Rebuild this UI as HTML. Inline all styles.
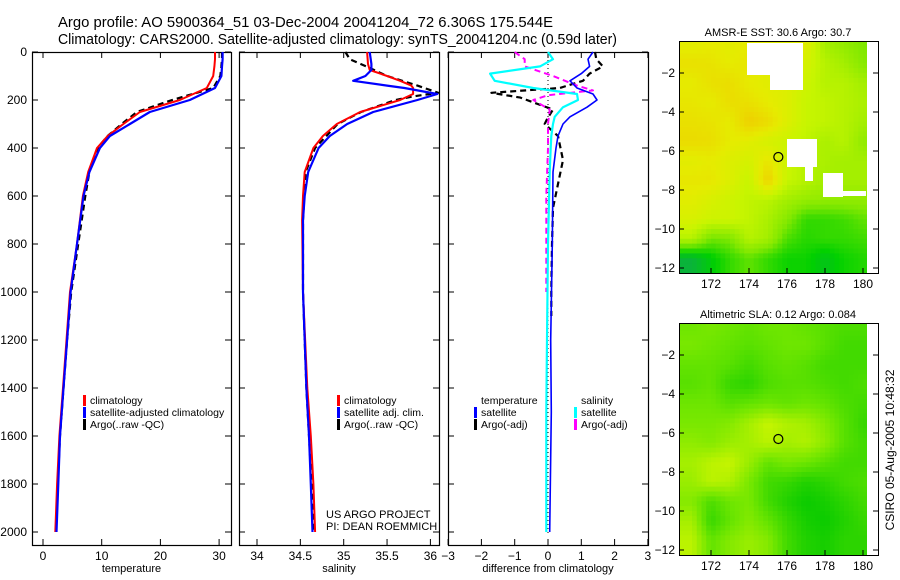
<!DOCTYPE html>
<html><head><meta charset="utf-8"><style>
html,body{margin:0;padding:0;background:#fff}
svg{display:block;font-family:"Liberation Sans",sans-serif}
</style></head><body>
<svg id="c" width="900" height="580" viewBox="0 0 900 580">
<defs>
<clipPath id="clip-sst"><rect x="679" y="41" width="199" height="232"/></clipPath>
<clipPath id="clip-sla"><rect x="679" y="323" width="199" height="232"/></clipPath>
</defs>
<text x="58" y="27" font-size="15" textLength="495" lengthAdjust="spacingAndGlyphs">Argo profile: AO 5900364_51 03-Dec-2004 20041204_72 6.306S 175.544E</text>
<text x="58" y="44" font-size="15" textLength="559" lengthAdjust="spacingAndGlyphs">Climatology: CARS2000. Satellite-adjusted climatology: synTS_20041204.nc (0.59d later)</text>
<text x="778" y="36" font-size="11" text-anchor="middle">AMSR-E SST: 30.6 Argo: 30.7</text>
<text x="778" y="318" font-size="11" text-anchor="middle">Altimetric SLA: 0.12 Argo: 0.084</text>
<text transform="translate(894,450) rotate(-90)" font-size="12" text-anchor="middle">CSIRO 05-Aug-2005 10:48:32</text>
<g id="g"></g>
</svg>
<script>
// depth levels
const depths=[0,30,60,100,150,200,250,300,350,400,500,600,800,1000,1200,1400,1600,1800,2000];
// temperature
const tempClim=[29.3,29.3,29.2,29.0,27.9,23.3,16.5,13.7,11.0,9.2,7.7,6.8,5.8,4.6,4.0,3.4,2.8,2.4,2.1];
const tempSat=[30.6,30.6,30.5,30.4,29.3,25.0,18.2,14.8,11.4,9.7,7.9,6.9,5.8,4.7,4.1,3.5,2.9,2.6,2.3];
const tempArgo=[30.5,30.5,30.4,30.2,29.0,22.0,16.0,13.4,11.0,9.3,7.9,7.2,6.0,4.8,4.1,3.5,2.9,2.5,2.2];
// salinity
const salDepths=[0,50,75,100,120,140,150,175,200,250,300,350,400,500,600,700,1000,1400,1600,1800,2000];
const salClim=[35.27,35.28,35.3,35.5,35.65,35.78,35.8,35.8,35.65,35.19,34.92,34.76,34.65,34.55,34.53,34.52,34.53,34.58,34.62,34.65,34.67];
const salSat=[35.3,35.32,35.32,35.25,35.11,35.5,35.7,36.08,35.85,35.34,35.04,34.84,34.71,34.59,34.55,34.53,34.53,34.57,34.6,34.62,34.64];
const argoSalDepths=[0,30,60,100,140,170,185,200,250,300,400,500,700,1000,1400,2000];
const salArgo=[35.02,35.07,35.26,35.5,35.85,36.09,35.8,35.6,35.2,34.93,34.67,34.56,34.53,34.53,34.57,34.66];
// differences
const dDepths=[0,30,60,90,120,150,175,200,230,270,300,350,400,500,800,1200,1500,2000];
const dTempSat=[1.35,1.2,1.25,1.0,0.66,0.87,1.35,1.47,1.17,0.66,0.45,0.3,0.24,0.15,0.13,0.08,0.1,0.05];
const dSalSat=[0,0.15,-0.24,-1.74,-1.6,-0.44,0.87,0.9,0.45,0.2,0.15,0.1,0.08,0.05,0.0,-0.03,-0.05,-0.05];
const dArgoDepths=[0,30,60,90,120,150,170,190,210,240,280,300,350,450,550,650,800,1000,1100];
const dTempArgo=[1.41,1.45,1.65,1.25,1.05,0.35,-1.7,-0.83,-0.44,0.15,-0.03,-0.1,0.3,0.45,0.3,0.15,0.12,0.1,0.1];
const dSalArgoDepths=[0,30,60,100,140,160,180,200,240,300,400,600,1000];
const dSalArgo=[-1.0,-0.7,-0.7,0.15,0.87,1.35,0,-0.44,0.05,0,0,-0.05,-0.05];
const depthTicks=[0,200,400,600,800,1000,1200,1400,1600,1800,2000];
const tempTicks=[0,10,20,30];
const salTicks=[34,34.5,35,35.5,36];
const diffTicks=[-3,-2,-1,0,1,2,3];
// map grids (rows lat -0.5..-12, cols lon 171..180)
const sstGrid=[
[0.7,0.72,0.7,0.72,0.7,0.68,0.7,0.5,0.45,0.4],
[0.76,0.75,0.72,0.74,0.7,0.66,0.65,0.55,0.5,0.42],
[0.72,0.76,0.77,0.72,0.7,0.68,0.62,0.55,0.55,0.5],
[0.74,0.72,0.77,0.76,0.72,0.68,0.6,0.58,0.55,0.52],
[0.76,0.75,0.72,0.82,0.78,0.68,0.6,0.58,0.55,0.5],
[0.78,0.77,0.72,0.7,0.65,0.62,0.58,0.52,0.55,0.45],
[0.7,0.72,0.68,0.65,0.74,0.62,0.55,0.52,0.5,0.5],
[0.74,0.74,0.68,0.6,0.82,0.6,0.55,0.5,0.5,0.5],
[0.7,0.66,0.62,0.58,0.56,0.5,0.46,0.45,0.45,0.45],
[0.66,0.62,0.62,0.58,0.52,0.42,0.28,0.28,0.3,0.35],
[0.55,0.38,0.4,0.55,0.5,0.32,0.26,0.28,0.28,0.3],
[0.08,0.18,0.28,0.35,0.28,0.22,0.22,0.15,0.22,0.25]];
const slaGrid=[
[0.5,0.55,0.5,0.45,0.5,0.5,0.45,0.4,0.35,0.35],
[0.55,0.5,0.45,0.4,0.45,0.5,0.5,0.4,0.3,0.3],
[0.45,0.45,0.4,0.3,0.4,0.45,0.4,0.3,0.3,0.3],
[0.4,0.45,0.25,0.2,0.35,0.4,0.4,0.35,0.3,0.35],
[0.5,0.5,0.4,0.45,0.5,0.45,0.5,0.45,0.35,0.3],
[0.55,0.55,0.6,0.75,0.9,0.8,0.75,0.6,0.4,0.25],
[0.65,0.6,0.7,0.75,0.85,0.75,0.8,0.65,0.4,0.3],
[0.75,0.85,0.9,0.7,0.45,0.55,0.5,0.4,0.3,0.3],
[0.7,0.85,0.8,0.55,0.3,0.25,0.15,0.2,0.3,0.35],
[0.6,0.35,0.5,0.55,0.3,0.15,0.05,0.1,0.2,0.3],
[0.75,0.25,0.45,0.6,0.45,0.25,0.1,0.05,0.15,0.25],
[0.85,0.45,0.6,0.7,0.6,0.3,0.15,0.1,0.2,0.2]];
const lonTicks=[172,174,176,178,180];
const latTicks=[-2,-4,-6,-8,-10,-12];
const argoLon=175.544, argoLat=-6.306;

const NS='http://www.w3.org/2000/svg';
const G=document.getElementById('g');
function mk(tag,at,parent){const e=document.createElementNS(NS,tag);for(const k in at)e.setAttribute(k,at[k]);(parent||G).appendChild(e);return e;}
const TOP=52,BOT=545;
const yD=d=>52+d*0.24;

function panel(name,left,right,xf,ticks,label){
  const f=mk('rect',{x:left+.5,y:TOP+.5,width:right-left,height:BOT-TOP,fill:'none',stroke:'#000','stroke-width':1.2});
  
  
  ticks.forEach(t=>{const x=xf(t);
    mk('line',{x1:x,x2:x,y1:TOP,y2:TOP+6,stroke:'#000'});
    mk('line',{x1:x,x2:x,y1:BOT,y2:BOT-6,stroke:'#000'});
    const tx=mk('text',{x:x,y:BOT+15,'font-size':12,'text-anchor':'middle'});tx.textContent=String(t).replace('-','\u2212');
    
    
  });
  depthTicks.forEach(d=>{const y=yD(d);
    mk('line',{x1:left,x2:left+6,y1:y,y2:y,stroke:'#000'});
    mk('line',{x1:right,x2:right-6,y1:y,y2:y,stroke:'#000'});
  });
  const l=mk('text',{x:(left+right)/2,y:572,'font-size':11,'text-anchor':'middle'});l.textContent=label;
  
  
}
function line(xs,ds,xf,color,w,dash,name){
  const p=xs.map((v,i)=>xf(v).toFixed(1)+','+yD(ds[i]).toFixed(1)).join(' ');
  const a={points:p,fill:'none',stroke:color,'stroke-width':w,'stroke-linejoin':'round'};
  if(dash)a['stroke-dasharray']=dash;
  const e=mk('polyline',a);
  
  
}
function legend(x,y,color,text,name){
  mk('rect',{x:x,y:y-9,width:3,height:11,fill:color});
  const t=mk('text',{x:x+7,y:y,'font-size':10.5});t.textContent=text;
  
  
}
function txt(x,y,s,name,size){const t=mk('text',{x:x,y:y,'font-size':size||10.5});t.textContent=s;
  
  }

depthTicks.forEach(d=>{const t=mk('text',{x:27,y:yD(d)+4,'font-size':12,'text-anchor':'end'});t.textContent=d;
  
  });

const xT=v=>43+v*5.87;
panel('temperature-panel',32,231,xT,tempTicks,'temperature');
line(tempArgo,depths,xT,'#000',2.2,'6,4','temp-argo-line');
line(tempClim,depths,xT,'#f00',2,null,'temp-climatology-line');
line(tempSat,depths,xT,'#00f',2.2,null,'temp-satellite-line');
legend(83,404,'#f00','climatology','temp-legend-climatology');
legend(83,416,'#00f','satellite-adjusted climatology','temp-legend-satellite');
legend(83,428,'#000','Argo(..raw -QC)','temp-legend-argo');

const xS=v=>257+(v-34)*86.7;
panel('salinity-panel',239,439,xS,salTicks,'salinity');
line(salArgo,argoSalDepths,xS,'#000',2.2,'6,4','sal-argo-line');
line(salClim,salDepths,xS,'#f00',2,null,'sal-climatology-line');
line(salSat,salDepths,xS,'#00f',2.2,null,'sal-satellite-line');
legend(337,404,'#f00','climatology','sal-legend-climatology');
legend(337,416,'#00f','satellite adj. clim.','sal-legend-satellite');
legend(337,428,'#000','Argo(..raw -QC)','sal-legend-argo');
txt(326,518,'US ARGO PROJECT','project-credit',11);
txt(326,530,'PI: DEAN ROEMMICH','pi-credit',11);

const xF=v=>548+v*33.3;
panel('difference-panel',448,648,xF,diffTicks,'difference from climatology');
mk('line',{x1:548,x2:548,y1:TOP,y2:BOT-12,stroke:'#000','stroke-dasharray':'1,3'});
line(dTempArgo,dArgoDepths,xF,'#000',2.2,'6,4','diff-temp-argo-line');
line(dSalArgo,dSalArgoDepths,xF,'#f0f',2,'6,4','diff-sal-argo-line');
line(dTempSat,dDepths,xF,'#00f',1.6,null,'diff-temp-satellite-line');
line(dSalSat,dDepths,xF,'#0ff',2.2,null,'diff-sal-satellite-line');
txt(481,404,'temperature','diff-legend-temp-heading');
legend(474,416,'#00f','satellite','diff-legend-temp-satellite');
legend(474,428,'#000','Argo(-adj)','diff-legend-temp-argo');
txt(581,404,'salinity','diff-legend-sal-heading');
legend(574,416,'#0ff','satellite','diff-legend-sal-satellite');
legend(574,428,'#f0f','Argo(-adj)','diff-legend-sal-argo');

function lerpC(stops,v){v=Math.max(0,Math.min(1,v));for(let i=1;i<stops.length;i++){if(v<=stops[i][0]){const a=stops[i-1],b=stops[i],t=(v-a[0])/(b[0]-a[0]);return 'rgb('+[1,2,3].map(k=>Math.round(a[k]+(b[k]-a[k])*t)).join(',')+')';}}const s=stops[stops.length-1];return 'rgb('+s[1]+','+s[2]+','+s[3]+')';}
const sstStops=[[0,16,160,96],[0.2,0,208,0],[0.4,128,232,0],[0.6,200,245,0],[0.72,230,235,0],[0.85,240,200,0],[1,224,128,0]];
const slaStops=[[0,0,200,0],[0.5,110,230,0],[1,220,248,0]];
function sample(grid,lon,lat){
  let c=lon-171,r=(-lat)-0.5;c=Math.max(0,Math.min(9,c));r=Math.max(0,Math.min(11,r));
  const c0=Math.floor(c),r0=Math.floor(r),c1=Math.min(9,c0+1),r1=Math.min(11,r0+1),tc=c-c0,tr=r-r0;
  return (grid[r0][c0]*(1-tc)+grid[r0][c1]*tc)*(1-tr)+(grid[r1][c0]*(1-tc)+grid[r1][c1]*tc)*tr;
}
function map(name,grid,stops,top,whites,clip){
  const L=679,R=878,B=top+232;
  const lx=lon=>711+(lon-172)*19, ly=lat=>top+32+(lat+2)*(-19.5);
  const g=mk('g',{'clip-path':'url(#'+clip+')'});
  
  
  for(let lon=170.375;lon<180.5;lon+=0.25){for(let lat=-0.125;lat>-12.6;lat-=0.25){
    const x=lx(lon-0.125),y=ly(lat+0.125);
    mk('rect',{x:x,y:y,width:5.3,height:5.4,fill:lerpC(stops,sample(grid,lon,lat))},g);
  }}
  mk('rect',{x:867,y:top,width:11,height:B-top,fill:'#fff'},g);
  whites.forEach(w=>mk('rect',{x:w[0],y:top+w[1],width:w[2],height:w[3],fill:'#fff'},g));
  const f=mk('rect',{x:L+.5,y:top+.5,width:R-L,height:B-top,fill:'none',stroke:'#000'});
  
  
  lonTicks.forEach(v=>{const x=lx(v);mk('line',{x1:x,x2:x,y1:B,y2:B-5,stroke:'#000'});
    const t=mk('text',{x:x,y:B+15,'font-size':12,'text-anchor':'middle'});t.textContent=v;
    
    });
  latTicks.forEach(v=>{const y=ly(v);mk('line',{x1:L,x2:L+5,y1:y,y2:y,stroke:'#000'});mk('line',{x1:R,x2:R-5,y1:y,y2:y,stroke:'#000'});
    const t=mk('text',{x:675,y:y+4,'font-size':12,'text-anchor':'end'});t.textContent='\u2212'+(-v);
    
    });
  const m=mk('circle',{cx:lx(argoLon),cy:ly(argoLat),r:4.5,fill:'none',stroke:'#000','stroke-width':1.2});
  
  
}
map('sst-map',sstGrid,sstStops,41,[[747,2,56,32],[770,34,33,15],[787,98,30,28],[805,126,8,14],[823,132,20,24],[843,150,23,5]],'clip-sst');
map('sla-map',slaGrid,slaStops,323,[],'clip-sla');
</script>
</body></html>
